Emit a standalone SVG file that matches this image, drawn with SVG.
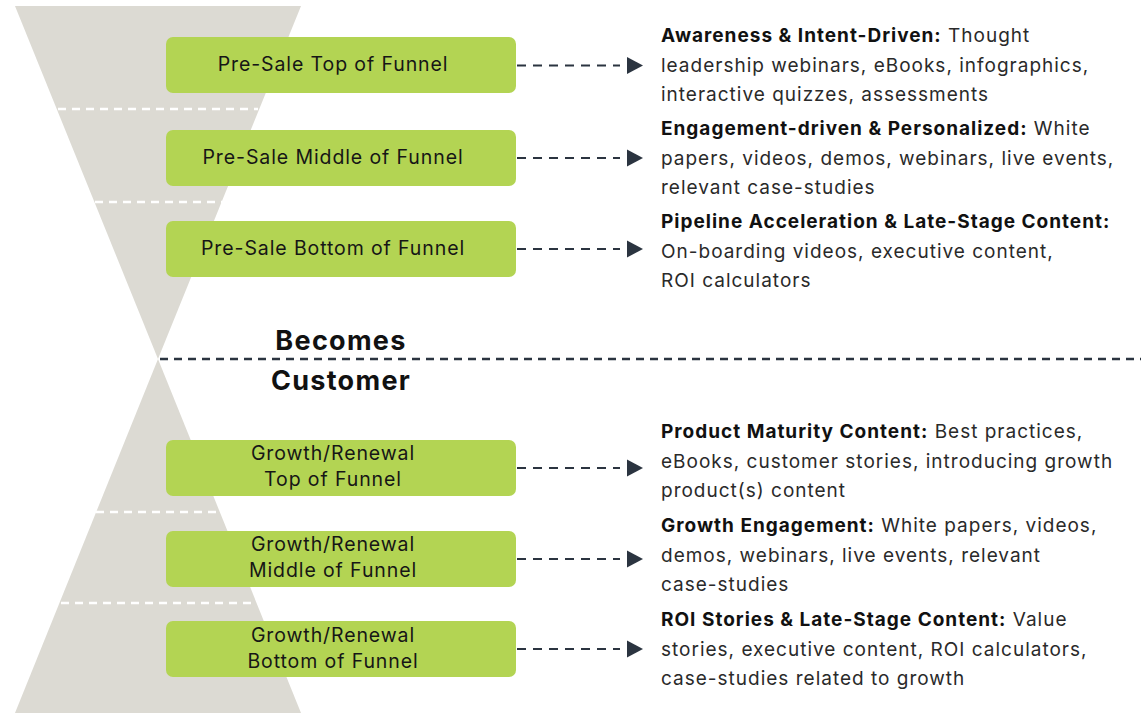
<svg xmlns="http://www.w3.org/2000/svg" width="1141" height="718" viewBox="0 0 1141 718">
  <style>
    .funnel { fill: #DCDAD3; }
    .tier { stroke: #FFFFFF; stroke-width: 2.5; stroke-dasharray: 8 6; fill: none; }
    .box { fill: #B3D453; }
    .boxlabel { font-family: Inter, "Liberation Sans", sans-serif; font-size: 19.5px; letter-spacing: 0.9px; fill: #161616; text-anchor: middle; }
    .link { stroke: #2B3440; stroke-width: 2.2; stroke-dasharray: 9 7; fill: none; }
    .divider { stroke: #2B3440; stroke-width: 2.5; stroke-dasharray: 8 6; fill: none; }
    .desc { font-family: Inter, "Liberation Sans", sans-serif; font-size: 19px; letter-spacing: 1px; fill: #2A2A2A; }
    .desc .head { font-weight: 700; fill: #111111; }
    .milestone { font-family: Inter, "Liberation Sans", sans-serif; font-size: 27px; letter-spacing: 1.3px; font-weight: 700; fill: #111111; text-anchor: middle; }
  </style>
  <defs>
    <marker id="arrowhead" markerUnits="userSpaceOnUse" markerWidth="17" markerHeight="18" viewBox="0 0 17 18" refX="-7" refY="9" orient="auto" overflow="visible">
      <path d="M0,0.5 L16,9 L0,17.5 Z" fill="#2B3440"/>
    </marker>
  </defs>

  <!-- hourglass: pre-sale funnel above, growth funnel below -->
  <g id="funnel">
    <polygon class="funnel" points="15,6 301,6 158,359"/>
    <polygon class="funnel" points="158,359 301,713 15,713"/>
    <line class="tier" x1="58" y1="109" x2="258" y2="109"/>
    <line class="tier" x1="95" y1="202" x2="222" y2="202"/>
    <line class="tier" x1="96" y1="512" x2="220" y2="512"/>
    <line class="tier" x1="61" y1="603" x2="257" y2="603"/>
  </g>

  <!-- conversion point -->
  <g id="becomes-customer">
    <line class="divider" x1="160" y1="359" x2="1141" y2="359"/>
    <text class="milestone" x="341" y="350">Becomes</text>
    <text class="milestone" x="341" y="390">Customer</text>
  </g>

  <!-- stages -->
  <g id="presale-top">
    <rect class="box" x="166" y="37" width="350" height="56" rx="7"/>
    <text class="boxlabel" x="333" y="71">Pre-Sale Top of Funnel</text>
  </g>
  <g id="presale-middle">
    <rect class="box" x="166" y="130" width="350" height="56" rx="7"/>
    <text class="boxlabel" x="333" y="164">Pre-Sale Middle of Funnel</text>
  </g>
  <g id="presale-bottom">
    <rect class="box" x="166" y="221" width="350" height="56" rx="7"/>
    <text class="boxlabel" x="333" y="255">Pre-Sale Bottom of Funnel</text>
  </g>
  <g id="growth-top">
    <rect class="box" x="166" y="440" width="350" height="56" rx="7"/>
    <text class="boxlabel" x="333" y="460">Growth/Renewal</text>
    <text class="boxlabel" x="333" y="486">Top of Funnel</text>
  </g>
  <g id="growth-middle">
    <rect class="box" x="166" y="531" width="350" height="56" rx="7"/>
    <text class="boxlabel" x="333" y="551">Growth/Renewal</text>
    <text class="boxlabel" x="333" y="577">Middle of Funnel</text>
  </g>
  <g id="growth-bottom">
    <rect class="box" x="166" y="621" width="350" height="56" rx="7"/>
    <text class="boxlabel" x="333" y="642">Growth/Renewal</text>
    <text class="boxlabel" x="333" y="668">Bottom of Funnel</text>
  </g>

  <!-- content descriptions -->
  <g id="content-presale-top">
    <text class="desc" x="661" y="42"><tspan class="head">Awareness &amp; Intent-Driven:</tspan> Thought</text>
    <text class="desc" x="661" y="71.5">leadership webinars, eBooks, infographics,</text>
    <text class="desc" x="661" y="101">interactive quizzes, assessments</text>
  </g>
  <g id="content-presale-middle">
    <text class="desc" x="661" y="135"><tspan class="head">Engagement-driven &amp; Personalized:</tspan> White</text>
    <text class="desc" x="661" y="164.5">papers, videos, demos, webinars, live events,</text>
    <text class="desc" x="661" y="194">relevant case-studies</text>
  </g>
  <g id="content-presale-bottom">
    <text class="desc" x="661" y="228"><tspan class="head">Pipeline Acceleration &amp; Late-Stage Content:</tspan></text>
    <text class="desc" x="661" y="257.5">On-boarding videos, executive content,</text>
    <text class="desc" x="661" y="287">ROI calculators</text>
  </g>
  <g id="content-growth-top">
    <text class="desc" x="661" y="438"><tspan class="head">Product Maturity Content:</tspan> Best practices,</text>
    <text class="desc" x="661" y="467.5">eBooks, customer stories, introducing growth</text>
    <text class="desc" x="661" y="497">product(s) content</text>
  </g>
  <g id="content-growth-middle">
    <text class="desc" x="661" y="532"><tspan class="head">Growth Engagement:</tspan> White papers, videos,</text>
    <text class="desc" x="661" y="561.5">demos, webinars, live events, relevant</text>
    <text class="desc" x="661" y="591">case-studies</text>
  </g>
  <g id="content-growth-bottom">
    <text class="desc" x="661" y="626"><tspan class="head">ROI Stories &amp; Late-Stage Content:</tspan> Value</text>
    <text class="desc" x="661" y="655.5">stories, executive content, ROI calculators,</text>
    <text class="desc" x="661" y="685">case-studies related to growth</text>
  </g>

  <!-- connectors -->
  <g id="connectors">
    <line class="link" x1="517" y1="65.5" x2="620" y2="65.5" marker-end="url(#arrowhead)"/>
    <line class="link" x1="517" y1="158" x2="620" y2="158" marker-end="url(#arrowhead)"/>
    <line class="link" x1="517" y1="249" x2="620" y2="249" marker-end="url(#arrowhead)"/>
    <line class="link" x1="517" y1="468" x2="620" y2="468" marker-end="url(#arrowhead)"/>
    <line class="link" x1="517" y1="559" x2="620" y2="559" marker-end="url(#arrowhead)"/>
    <line class="link" x1="517" y1="649" x2="620" y2="649" marker-end="url(#arrowhead)"/>
  </g>
</svg>
